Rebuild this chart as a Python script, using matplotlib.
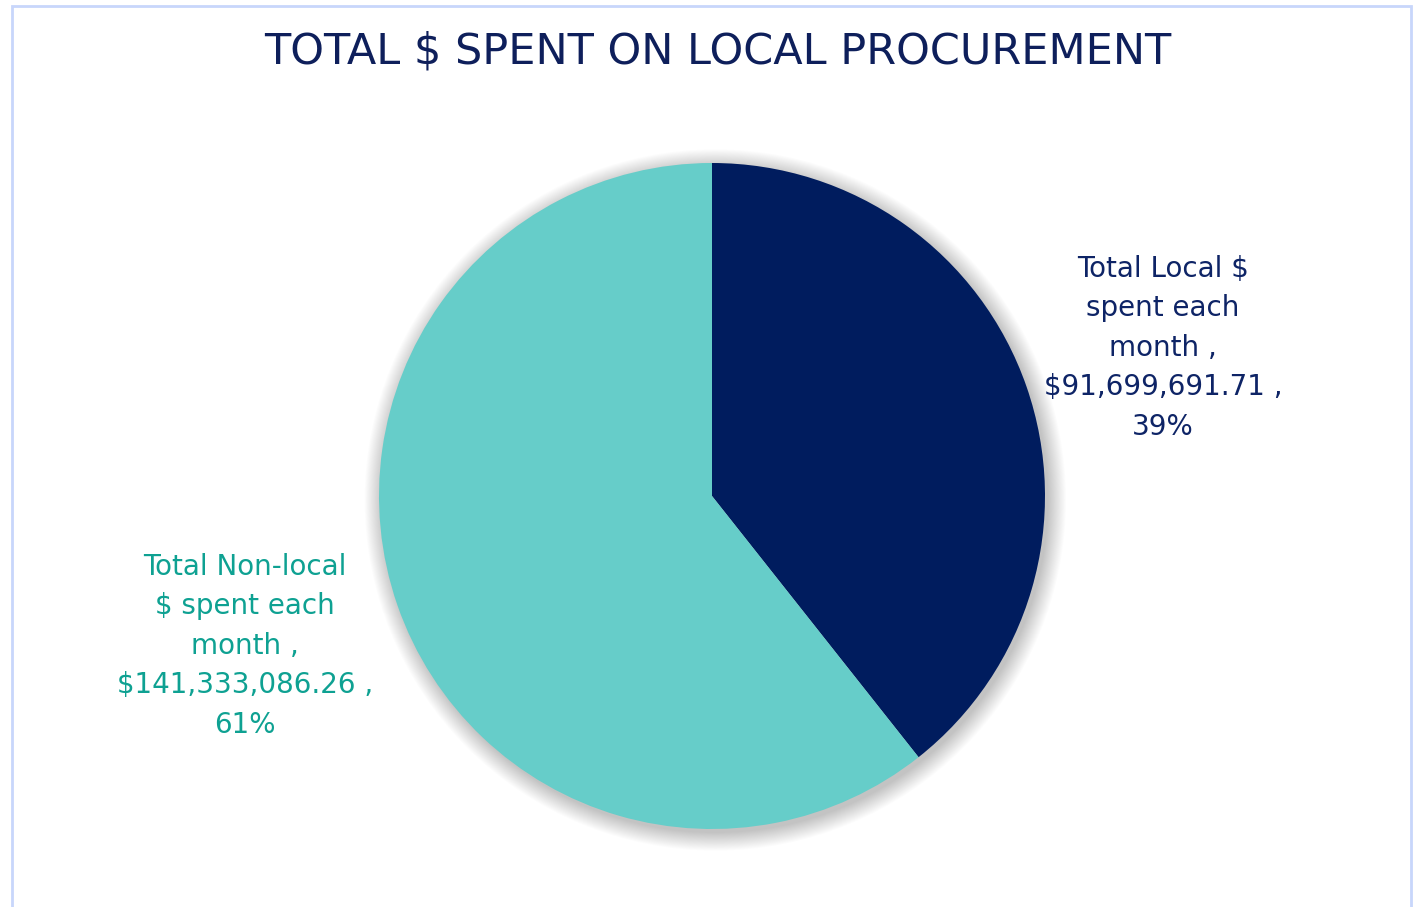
import matplotlib.pyplot as plt
from matplotlib.patches import Circle, Rectangle

# Monthly spend split
categories = ['Total Local $ spent each month', 'Total Non-local $ spent each month']
amounts = [91699691.71, 141333086.26]
slice_colors = ['#001C5E', '#66CDC9']
text_colors = ['#0E2466', '#0EA192']

total = sum(amounts)
shares = [a / total * 100 for a in amounts]

fig = plt.figure(figsize=(14.17, 9.07), dpi=100)
fig.patch.set_facecolor('white')

# light blue frame round the chart area
fig.add_artist(Rectangle((11.5 / 1417, -0.05), 1399 / 1417, 1 - 5.5 / 907 + 0.05,
                         transform=fig.transFigure, fill=False,
                         edgecolor='#C8D6FB', linewidth=2))

fig.text(718 / 1417, 1 - 51 / 907, 'TOTAL $ SPENT ON LOCAL PROCUREMENT',
         ha='center', va='center', fontsize=31, color='#0E1F5B',
         family='DejaVu Sans')

r_px = 333
ax = fig.add_axes([(712 - r_px) / 1417, (907 - 496 - r_px) / 907,
                   2 * r_px / 1417, 2 * r_px / 907])
ax.set_xlim(-1, 1)
ax.set_ylim(-1, 1)
ax.axis('off')

# soft shadow under the pie
for i in range(20):
    ax.add_patch(Circle((0.01, -0.012), 1.0 + i * 0.0028, color='black',
                        alpha=0.012, linewidth=0, zorder=0, clip_on=False))

ax.pie(amounts, colors=slice_colors, startangle=90, counterclock=False,
       radius=1.0, wedgeprops=dict(linewidth=0, zorder=2))
ax.set_xlim(-1, 1)
ax.set_ylim(-1, 1)

label_pos = [(1.354, 0.445), (-1.402, -0.45)]
heads = ['Total Local $\nspent each\nmonth ,', 'Total Non-local\n$ spent each\nmonth ,']
for head, amt, pct, (x, y), c in zip(heads, amounts, shares, label_pos, text_colors):
    txt = f'{head}\n${amt:,.2f} ,\n{pct:.0f}%'
    ax.text(x, y, txt, ha='center', va='center', fontsize=20, color=c,
            linespacing=1.52, family='DejaVu Sans', clip_on=False)

fig.savefig('out.png', dpi=100)
